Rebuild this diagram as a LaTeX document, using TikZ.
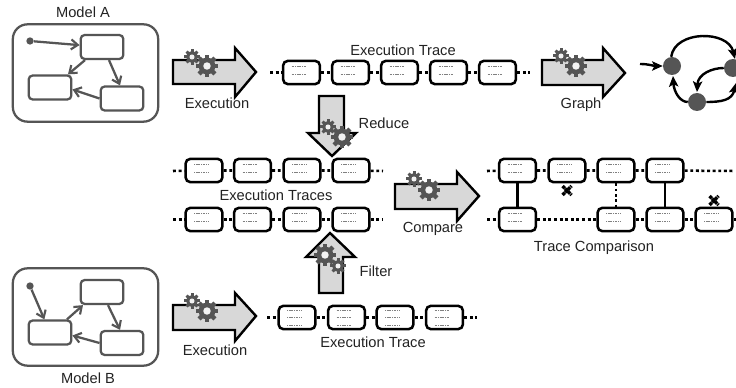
\documentclass[tikz,border=0pt]{standalone}
\usepackage{fontspec}
\setmainfont{Liberation Sans}
\usetikzlibrary{arrows.meta}
\definecolor{gearcol}{HTML}{555555}
\definecolor{arrowfill}{HTML}{D8D8D8}
\definecolor{txtcol}{HTML}{222222}
\tikzset{
  modelbox/.style={draw=gearcol,line width=1.7pt,rounded corners=11pt,fill=white,inner sep=0pt,minimum width=109pt,minimum height=73pt},
  statebox/.style={draw=gearcol,line width=1.7pt,rounded corners=3pt,fill=white,inner sep=0pt,minimum width=32pt,minimum height=18pt},
  tracebox/.style={draw=black,line width=1.9pt,rounded corners=3.5pt,fill=white,inner sep=0pt,minimum width=27.6pt,minimum height=17.4pt},
  tracedots/.style={line width=1.9pt,dash pattern=on 2.2pt off 2pt},
  linkline/.style={line width=1.9pt},
  linkdots/.style={line width=1.9pt,dash pattern=on 2pt off 2pt},
  microline/.style={draw=gray,line width=.35pt,dash pattern=on .8pt off .5pt},
  bigarrow/.style={draw=black,line width=1.8pt,fill=arrowfill,miter limit=10},
  statearrow/.style={draw=gearcol,line width=1.7pt,-{Straight Barb[length=5pt,width=7.5pt,line width=1.6pt]}},
  grapharrow/.style={draw=black,line width=1.8pt,-{Stealth[length=8pt,width=7pt,inset=1.8pt]}},
  graphnode/.style={circle,fill=gearcol,inner sep=0pt,minimum size=13.5pt},
  statedot/.style={circle,fill=gearcol,inner sep=0pt,minimum size=5.5pt},
  lab/.style={text=txtcol,font=\fontsize{11}{13}\selectfont,inner sep=0pt,text height=8pt,text depth=.2pt},
  crossmark/.style={line width=2.4pt,black,dash pattern=on 2.4pt off .5pt},
}
\newcommand{\gearicon}[3]{%
  \foreach \a in {0,45,...,315}{\draw[gearcol,line width=#3*.3pt] (#1,#2)++(\a:.6*#3)--++(\a:.42*#3);}
  \fill[gearcol] (#1,#2) circle[radius=.76*#3];
  \fill[white!90!gray] (#1,#2) circle[radius=.34*#3];
}
\newcommand{\tracetwo}[3]{%
  \node[tracebox] (#1) at (#2,#3) {};
  \draw[microline] (#2-10,#3-6.5)--(#2+5,#3-6.5);
  \draw[microline] (#2-10,#3+2)--(#2+5,#3+2);
}
\newcommand{\tracethree}[3]{%
  \node[tracebox] (#1) at (#2,#3) {};
  \draw[microline] (#2-10,#3-7.5)--(#2+4,#3-7.5);
  \draw[microline] (#2-10,#3)--(#2+4,#3);
  \draw[microline] (#2-10,#3+7.5)--(#2+4,#3+7.5);
}
\begin{document}
\begin{tikzpicture}[x=.75pt,y=-.75pt]
\useasboundingbox (0,0) rectangle (736,388);
% Model A
\node[modelbox] (ma) at (85.5,73) {};
\node[lab] (malab) at (83,12) {Model A};
\node[statebox] (a1) at (102,47) {};
\node[statebox] (a2) at (50,87.5) {};
\node[statebox] (a3) at (122,98.5) {};
\node[statedot] (a0) at (30,41) {};
\draw[statearrow] (a0) -- (a1);
\draw[statearrow] ([shift={(-17,0)}]a1.south) -- ([shift={(18,0)}]a2.north);
\draw[statearrow] ([shift={(7,0)}]a1.south) -- ([shift={(-2,0)}]a3.north);
\draw[statearrow] (a3.west) -- ([shift={(0,2)}]a2.east);
% Model B
\node[modelbox] (mb) at (85.5,317) {};
\node[lab] (mblab) at (88,378) {Model B};
\node[statebox] (b1) at (102,292) {};
\node[statebox] (b2) at (50,332.5) {};
\node[statebox] (b3) at (122,343) {};
\node[statedot] (b0) at (30,286) {};
\draw[statearrow] (b0) -- (b2);
\draw[statearrow] ([shift={(17,0)}]b2.north) -- ([shift={(-19,0)}]b1.south);
\draw[statearrow] ([shift={(6,0)}]b1.south) -- ([shift={(-2,0)}]b3.north);
\draw[statearrow] (b3.west) -- ([shift={(0,3)}]b2.east);
% Big arrows
\draw[bigarrow] (173,60)--(235,60)--(235,48)--(256,72)--(235,97)--(235,84)--(173,84)--cycle;
\gearicon{192}{57}{7.5}\gearicon{207}{66}{11}
\node[lab] (l1) at (217,103) {Execution};
\draw[bigarrow] (173,305)--(235,305)--(235,293)--(256,316)--(235,341)--(235,330)--(173,330)--cycle;
\gearicon{192}{301}{7.5}\gearicon{207}{311}{11}
\node[lab] (l2) at (215,350) {Execution};
\draw[bigarrow] (542,60)--(603,60)--(603,48)--(625,73)--(603,97)--(603,85)--(542,85)--cycle;
\gearicon{561}{56}{7.5}\gearicon{576}{66}{11}
\node[lab] (l3) at (581,103) {Graph};
\draw[bigarrow] (395,184)--(457,184)--(457,172)--(479,196)--(457,221)--(457,209)--(395,209)--cycle;
\gearicon{414}{179}{7.5}\gearicon{429}{190}{11}
\node[lab] (l4) at (433,227) {Compare};
\draw[bigarrow] (319,96)--(344,96)--(344,133)--(356,133)--(332,156)--(308,133)--(319,133)--cycle;
\gearicon{328}{127}{7.5}\gearicon{342}{137}{11}
\node[lab] (l5) at (384,123) {Reduce};
\draw[bigarrow] (319,293)--(343,293)--(343,257)--(355,257)--(330,233)--(306,257)--(319,257)--cycle;
\gearicon{325}{255}{11}\gearicon{338}{266}{7.5}
\node[lab] (l6) at (376,271) {Filter};
% Top trace
\node[lab] (t) at (403,50) {Execution Trace};
\coordinate (ts) at (270,72.5); \coordinate (te) at (530,72.5);
\tracetwo{t1}{301.5}{72.5}\tracetwo{t2}{350.5}{72.5}\tracetwo{t3}{399.5}{72.5}\tracetwo{t4}{448.5}{72.5}\tracetwo{t5}{497.5}{72.5}
\draw[tracedots] (ts)--(t1) (t1)--(t2) (t2)--(t3) (t3)--(t4) (t4)--(t5) (t5)--(te);
% Middle traces
\node[lab] (m) at (276,195) {Execution Traces};
\coordinate (ms) at (173,171); \coordinate (me) at (383,171);
\tracetwo{m1}{204}{170.5}\tracetwo{m2}{252.5}{170.5}\tracetwo{m3}{302}{170.5}\tracetwo{m4}{351}{170.5}
\draw[tracedots] (ms)--(m1) (m1)--(m2) (m2)--(m3) (m3)--(m4) (m4)--(me);
\coordinate (ns) at (173,219.5); \coordinate (ne) at (383,219.5);
\tracetwo{n1}{204}{219.5}\tracetwo{n2}{252.5}{219.5}\tracetwo{n3}{302}{219.5}\tracetwo{n4}{351}{219.5}
\draw[tracedots] (ns)--(n1) (n1)--(n2) (n2)--(n3) (n3)--(n4) (n4)--(ne);
% Bottom trace
\node[lab] (b) at (373,342) {Execution Trace};
\coordinate (bs) at (267,317.5); \coordinate (be) at (477,317.5);
\tracethree{u1}{297}{317.5}\tracethree{u2}{346.5}{317.5}\tracethree{u3}{395}{317.5}\tracethree{u4}{444.5}{317.5}
\draw[tracedots] (bs)--(u1) (u1)--(u2) (u2)--(u3) (u3)--(u4) (u4)--(be);
% Trace comparison
\node[lab] (c) at (594,246) {Trace Comparison};
\coordinate (cs) at (487,171); \coordinate (ce) at (734,171);
\tracetwo{c1}{517.5}{170.5}\tracetwo{c2}{567}{170.5}\tracetwo{c3}{616}{170.5}\tracetwo{c4}{665}{170.5}
\draw[tracedots] (cs)--(c1) (c1)--(c2) (c2)--(c3) (c3)--(c4) (c4)--(ce);
\coordinate (ds) at (487,219.5); \coordinate (de) at (736,219.5);
\tracetwo{d1}{517.5}{219.5}\tracetwo{d3}{616}{219.5}\tracetwo{d4}{665}{219.5}\tracetwo{d5}{714}{219.5}
\draw[tracedots] (ds)--(d1) (d1)--(d3) (d3)--(d4) (d4)--(d5) (d5)--(de);
\draw[linkline] (c1)--(d1);
\draw[linkdots] (c3)--(d3);
\draw[linkline] (c4)--(d4);
\coordinate (x1) at (567,190.5); \coordinate (x2) at (714,200.5);
\draw[crossmark] ([shift={(-4.5,-4.5)}]x1)--([shift={(4.5,4.5)}]x1) ([shift={(-4.5,4.5)}]x1)--([shift={(4.5,-4.5)}]x1);
\draw[crossmark] ([shift={(-4.5,-4.5)}]x2)--([shift={(4.5,4.5)}]x2) ([shift={(-4.5,4.5)}]x2)--([shift={(4.5,-4.5)}]x2);
% Graph
\node[graphnode] (g1) at (672,66) {};
\node[graphnode] (g2) at (733,68) {};
\node[graphnode] (g3) at (697,102) {};
\coordinate (g0) at (640,64);
\draw[grapharrow] (g0) to[out=0,in=180] (g1);
\draw[grapharrow] (g1.95) .. controls (675,30) and (728,30) .. (735,59);
\draw[grapharrow] (g2.180) .. controls (712,68) and (698,74) .. (697,92);
\draw[grapharrow] (g3.180) .. controls (680,102) and (674,92) .. (673,76);
\draw[grapharrow] (g3.0) .. controls (722,102) and (732,100) .. (736,83);
\end{tikzpicture}
\end{document}
